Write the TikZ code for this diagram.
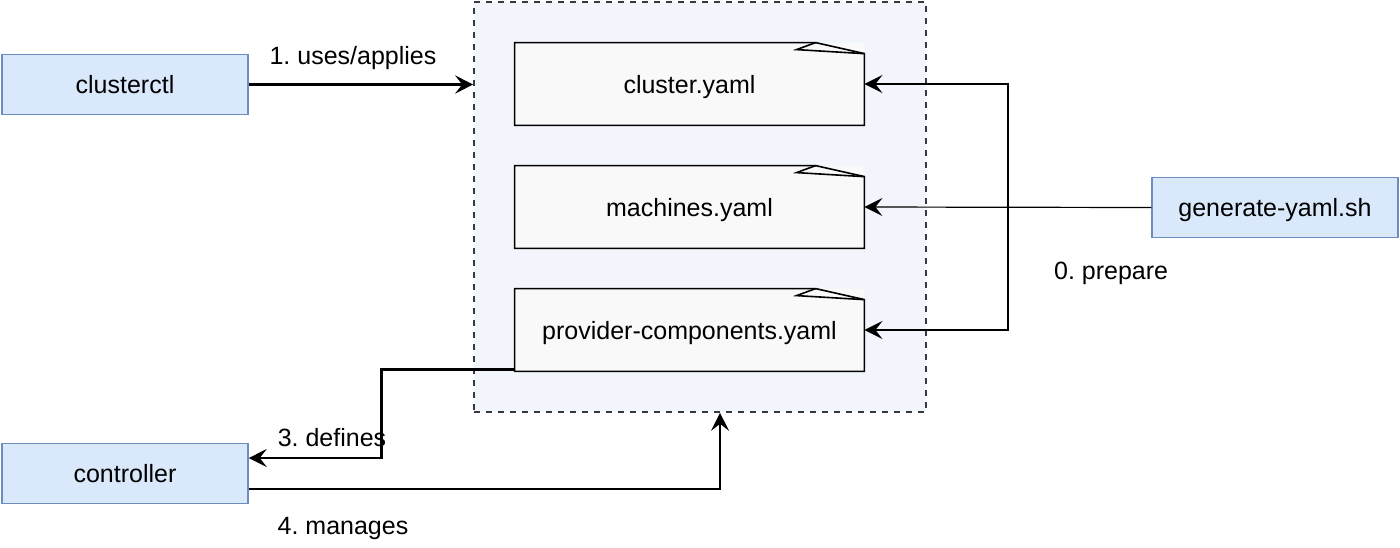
\documentclass[tikz,border=0pt]{standalone}
\usepackage{fontspec}
\setmainfont{Liberation Sans}
\usetikzlibrary{arrows.meta}
\definecolor{boxfill}{HTML}{DAE8FC}
\definecolor{boxline}{HTML}{6C8EBF}
\definecolor{docfill}{HTML}{F9F9F9}
\definecolor{groupfill}{HTML}{F2F6FC}
\definecolor{groupline}{HTML}{36393D}
\frenchspacing
\begin{document}
\begin{tikzpicture}[x=0.5pt, y=-0.5pt, font=\fontsize{12.5pt}{15pt}\selectfont,
  tool/.style={draw=boxline, fill=boxfill, line width=0.75pt, minimum width=123pt, minimum height=30pt, inner sep=0pt, text height=11.5pt, text depth=2.5pt},
  yamldoc/.style={fill=docfill, minimum width=174.5pt, minimum height=41pt, inner sep=0pt, text height=11.5pt, text depth=2.5pt},
  group/.style={draw=groupline, fill=groupfill, dash pattern=on 3pt off 3pt, line width=0.8pt, minimum width=226pt, minimum height=205pt},
  flow/.style={line width=1.2pt, -{Stealth[length=9pt, width=9pt, inset=3.5pt]}},
  thinflow/.style={line width=0.6pt, -{Stealth[length=9pt, width=9pt, inset=3.5pt]}},
  lbl/.style={inner sep=0pt}]
\useasboundingbox (0,0) rectangle (1400,547);

% Group of yaml files
\node[group] (files) at (700,207) {};
\node[yamldoc] (cluster) at (689.5,84) {cluster.yaml};
\node[yamldoc] (machines) at (689.5,207) {machines.yaml};
\node[yamldoc] (provider) at (689.5,330) {provider-components.yaml};
\foreach \f in {cluster,machines,provider} {
  \draw[line width=0.8pt] (\f.north east) ++(0,11) -- (\f.south east) -- (\f.south west) -- (\f.north west) -- ++(301,0) -- cycle;
  \draw[line width=0.8pt] (\f.north west) ++(301,0) -- ++(-19,7) -- ++(67,4);
}

% Tools
\node[tool] (clusterctl) at (125,84.5) {clusterctl};
\node[tool] (controller) at (125,473.5) {controller};
\node[tool] (generate) at (1275,207.5) {generate-yaml.sh};

% 0. prepare
\coordinate (split) at (1008,207);
\draw[thinflow] (generate.west) -- node[lbl, pos=0.14, below=27pt] {0. prepare} (machines.east);
\draw[flow] (split) |- (cluster.east);
\draw[flow] (split) |- (provider.east);

% 1. uses/applies
\draw[flow] (clusterctl.east) -- node[lbl, above=7pt, xshift=-4pt] {1. uses/applies} (clusterctl.east -| files.west);

% 3. defines
\draw[flow] ([yshift=1pt]provider.south west) -- ++(-133,0) |- ([yshift=7.75pt]controller.east);
\node[lbl] (defines) at (332,438) {3. defines};

% 4. manages
\draw[flow] ([yshift=-7.75pt]controller.east) -| ([xshift=10pt]files.south);
\node[lbl] (manages) at (343,528) {4. manages};
\end{tikzpicture}
\end{document}
